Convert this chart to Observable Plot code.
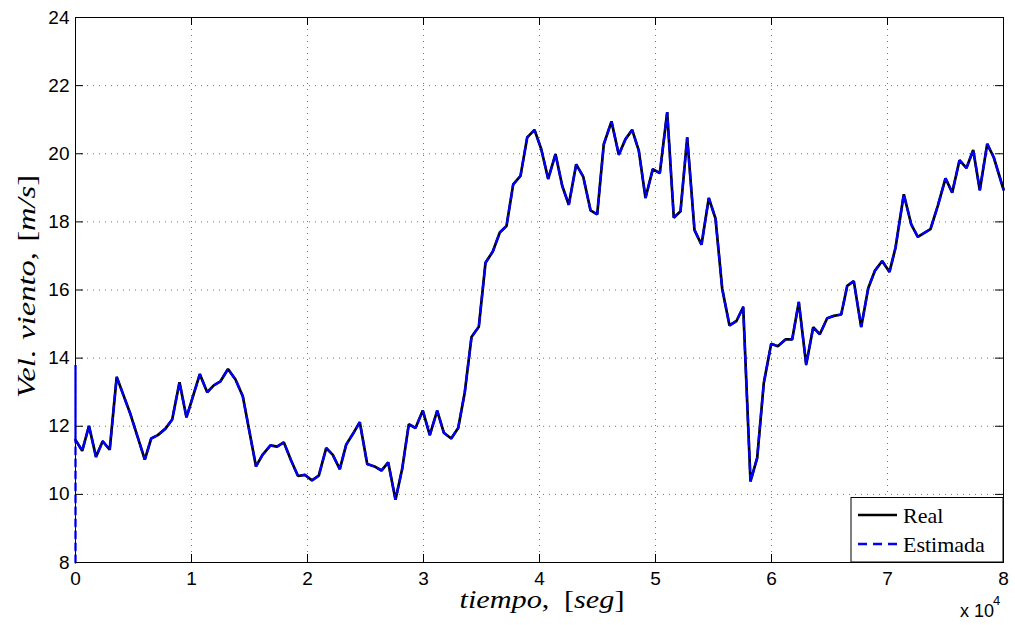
<!DOCTYPE html>
<html><head><meta charset="utf-8">
<script src="https://cdn.jsdelivr.net/npm/d3@7"></script>
<script src="https://cdn.jsdelivr.net/npm/@observablehq/plot@0.6"></script>
<style>body{margin:0;background:#fff}#chart{width:1015px;height:625px}</style>
</head><body><div id="chart"></div>
<script>
// time (s) of each reading
const time = [0, 578, 1164, 1767, 2345, 2948, 3552, 4741, 5974, 6526, 7095, 7759, 8336, 8966, 9569, 10147, 10716, 11353, 11922, 12500,
  13147, 13793, 14422, 15560, 16121, 16810, 17371, 17957, 18578, 19181, 19784, 20388, 20974, 21612, 22181, 22784, 23336, 23905, 24509, 25147,
  25776, 26379, 26957, 27586, 28164, 28733, 29310, 29940, 30543, 31181, 31750, 32388, 32991, 33560, 34138, 34767, 35345, 35974, 36578, 37155,
  37733, 38362, 38940, 39569, 40147, 40750, 41379, 41957, 42526, 43164, 43767, 44397, 44974, 45543, 46207, 46836, 47414, 47991, 48560, 49138,
  49767, 50371, 51009, 51578, 52155, 52733, 53362, 53966, 54595, 55172, 55750, 56379, 56983, 57560, 58190, 58767, 59336, 59974, 60543, 61207,
  61784, 62353, 62991, 63595, 64164, 64802, 65371, 66009, 66526, 67095, 67733, 68336, 68905, 69543, 70172, 70690, 71405, 72043, 72612, 73707,
  74336, 75000, 75578, 76207, 76810, 77388, 77957, 78595, 79164, 80000];
// wind speed, real (m/s)
const real = [11.6, 11.28, 12.01, 11.1, 11.56, 11.31, 13.45, 12.35, 11.02, 11.64, 11.74, 11.93, 12.2, 13.29, 12.26, 12.9, 13.53, 13.0, 13.2, 13.32,
  13.68, 13.37, 12.88, 10.82, 11.16, 11.44, 11.4, 11.53, 11.0, 10.54, 10.57, 10.41, 10.55, 11.36, 11.16, 10.74, 11.46, 11.77, 12.12, 10.89,
  10.82, 10.7, 10.94, 9.84, 10.75, 12.06, 11.95, 12.46, 11.74, 12.46, 11.81, 11.64, 11.95, 13.0, 14.62, 14.92, 16.8, 17.13, 17.69, 17.88,
  19.1, 19.35, 20.48, 20.7, 20.14, 19.26, 19.99, 19.06, 18.5, 19.69, 19.33, 18.34, 18.22, 20.28, 20.95, 19.97, 20.43, 20.7, 20.09, 18.7,
  19.55, 19.43, 21.22, 18.12, 18.31, 20.48, 17.76, 17.33, 18.7, 18.1, 16.04, 14.96, 15.09, 15.5, 10.38, 11.07, 13.27, 14.42, 14.35, 14.55,
  14.55, 15.65, 13.81, 14.91, 14.7, 15.17, 15.24, 15.28, 16.12, 16.26, 14.91, 16.05, 16.56, 16.85, 16.53, 17.24, 18.81, 17.93, 17.56, 17.79,
  18.47, 19.28, 18.86, 19.81, 19.58, 20.11, 18.93, 20.29, 19.89, 18.95];
// estimated series: initial transient at t = 0, then it follows the real readings
const estStartTime = [0, 0];
const estStartValue = [8, 13.8];
const xTicks = [0, 10000, 20000, 30000, 40000, 50000, 60000, 70000, 80000];
const yTicks = [8, 10, 12, 14, 16, 18, 20, 22, 24];
const seriesNames = ["Real", "Estimada"];
const seriesColors = ["#000000", "#0000ff"];

const realData = time.map((t, i) => ({t, v: real[i]}));
const estData = estStartTime.map((t, i) => ({t, v: estStartValue[i]})).concat(realData);

const W = 1015, H = 625, mL = 75, mR = 12, mT = 17, mB = 63;
const pw = W - mL - mR, ph = H - mT - mB, tk = 8;

const svg = Plot.plot({
  width: W, height: H,
  marginLeft: mL, marginRight: mR, marginTop: mT, marginBottom: mB,
  style: {fontFamily: "'Liberation Sans', Arial, sans-serif", fontSize: "19px", background: "#fff", color: "#000"},
  x: {domain: [0, 80000], ticks: xTicks, tickFormat: d => String(d / 10000), tickSize: 0, tickPadding: 9, label: null},
  y: {domain: [8, 24], ticks: yTicks, tickFormat: d => String(d), tickSize: 0, tickPadding: 6, label: null},
  marks: [
    Plot.ruleX(xTicks, {stroke: "#000", strokeOpacity: 0.55, strokeDasharray: "1,5"}),
    Plot.ruleY(yTicks, {stroke: "#000", strokeOpacity: 0.55, strokeDasharray: "1,5"}),
    Plot.line(realData, {x: "t", y: "v", stroke: seriesColors[0], strokeWidth: 2.7, strokeLinejoin: "miter"}),
    Plot.line(estData, {x: "t", y: "v", stroke: seriesColors[1], strokeWidth: 2.3, strokeDasharray: "7,5", strokeLinejoin: "miter"}),
    Plot.tickX(xTicks, {x: d => d, stroke: "#000", insetTop: ph - tk}),
    Plot.tickX(xTicks, {x: d => d, stroke: "#000", insetBottom: ph - tk}),
    Plot.tickY(yTicks, {y: d => d, stroke: "#000", insetRight: pw - tk}),
    Plot.tickY(yTicks, {y: d => d, stroke: "#000", insetLeft: pw - tk}),
    Plot.frame({stroke: "#000"})
  ]
});
document.getElementById("chart").appendChild(svg);

const s = d3.select(svg);
const serif = "'Liberation Serif', 'Times New Roman', serif";

// x label
const xl = s.append("text").attr("x", 542).attr("y", 608).attr("text-anchor", "middle")
  .attr("font-family", serif).attr("font-size", 25).attr("fill", "#000")
  .attr("textLength", 165).attr("lengthAdjust", "spacingAndGlyphs");
xl.append("tspan").attr("font-style", "italic").text("tiempo");
xl.append("tspan").text(",");
xl.append("tspan").attr("dx", 12).text("[");
xl.append("tspan").attr("font-style", "italic").text("seg");
xl.append("tspan").text("]");

// y label
const yl = s.append("text").attr("transform", "translate(35,286.5) rotate(-90)").attr("text-anchor", "middle")
  .attr("font-family", serif).attr("font-size", 25).attr("fill", "#000")
  .attr("textLength", 223).attr("lengthAdjust", "spacingAndGlyphs");
yl.append("tspan").attr("font-style", "italic").text("Vel");
yl.append("tspan").text(".");
yl.append("tspan").attr("dx", 8).attr("font-style", "italic").text("viento");
yl.append("tspan").text(",");
yl.append("tspan").attr("dx", 8).text("[");
yl.append("tspan").attr("font-style", "italic").text("m/s");
yl.append("tspan").text("]");

// exponent
const ex = s.append("text").attr("x", 960).attr("y", 617).attr("text-anchor", "start")
  .attr("font-family", "'Liberation Sans', Arial, sans-serif").attr("font-size", 18).attr("fill", "#000");
ex.append("tspan").text("x 10");
ex.append("tspan").attr("x", 993).attr("y", 605).attr("font-size", 13).text("4");

// legend
const lg = s.append("g");
lg.append("rect").attr("x", 851).attr("y", 497.5).attr("width", 152).attr("height", 64.5)
  .attr("fill", "#fff").attr("stroke", "#000").attr("stroke-width", 1);
const rowsY = [515, 544];
seriesNames.forEach((name, i) => {
  lg.append("line").attr("x1", 858).attr("x2", 897).attr("y1", rowsY[i]).attr("y2", rowsY[i])
    .attr("stroke", seriesColors[i]).attr("stroke-width", 2.5)
    .attr("stroke-dasharray", i === 1 ? "9,6" : null);
  lg.append("text").attr("x", 903).attr("y", rowsY[i] + 7.5).attr("text-anchor", "start")
    .attr("font-family", serif).attr("font-size", 22).attr("fill", "#000").text(name);
});
</script>
</body></html>
